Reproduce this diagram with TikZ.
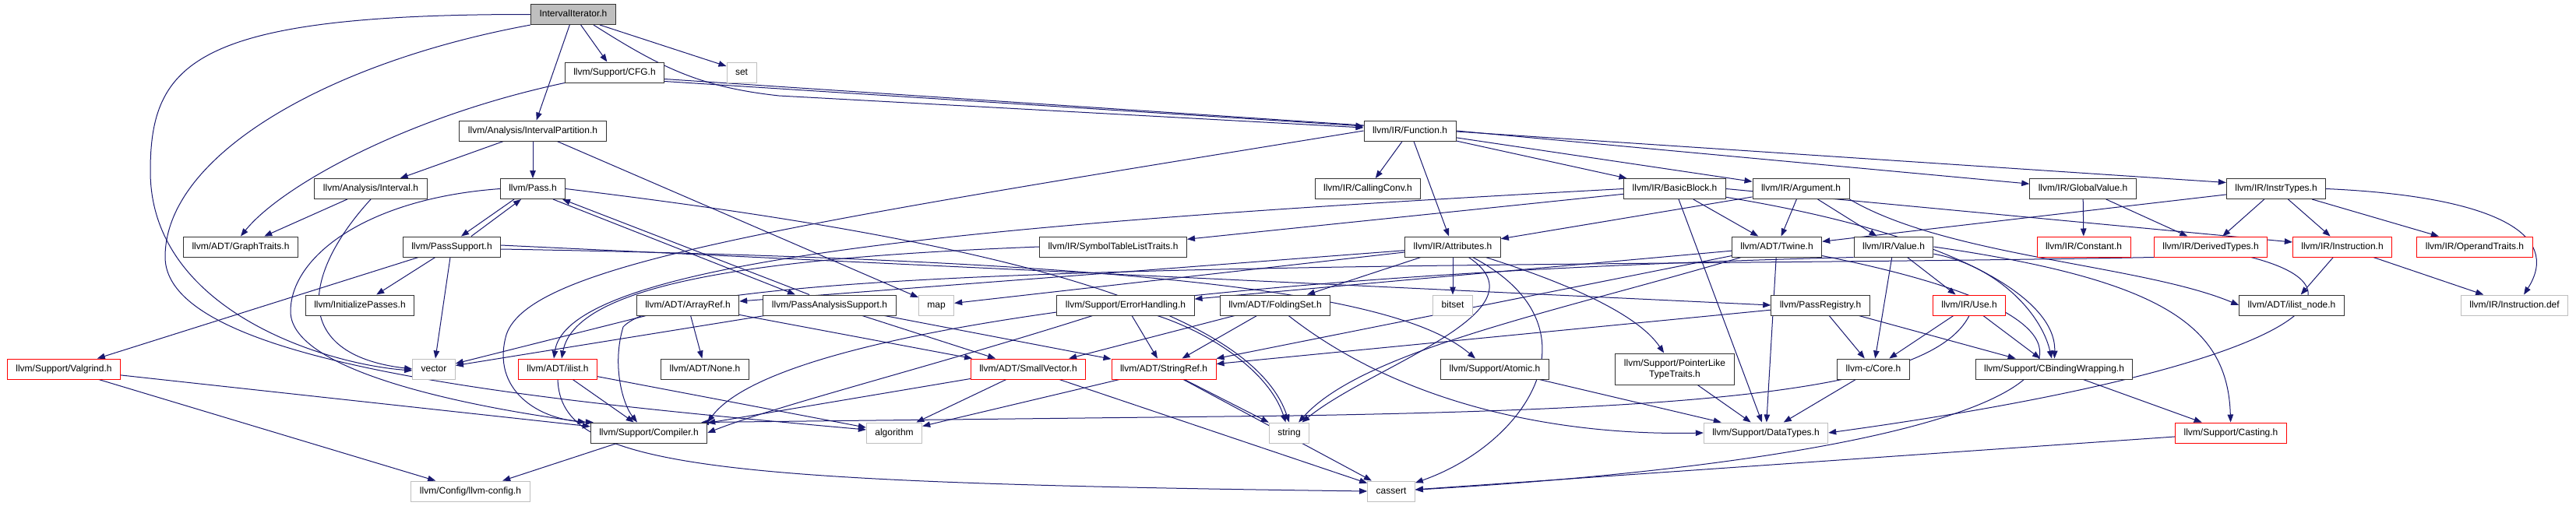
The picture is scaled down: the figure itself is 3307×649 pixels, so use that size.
\documentclass[tikz,border=0pt]{standalone}
\usepackage{fontspec}
\setmainfont{Liberation Sans}
\usetikzlibrary{arrows.meta,backgrounds}
\definecolor{edgeblue}{HTML}{191970}
\definecolor{extgray}{HTML}{BFBFBF}

\begin{document}
\begin{tikzpicture}[
  x=1pt, y=-1pt,
  >={Triangle[length=10pt,width=7.5pt]},
  box/.style={draw=black!80, fill=white, line width=1pt,
              font=\fontsize{12}{14}\selectfont, minimum height=26pt,
              inner xsep=11pt, inner ysep=0pt},
  one/.style={box, text height=9pt, text depth=2.5pt},
  redbox/.style={one, draw=red},
  graybox/.style={one, draw=extgray},
  dep/.style={->, draw=edgeblue, line width=1pt}
]
  \useasboundingbox (0,0) rectangle (3307,649);

  % row 0 and 1
  \node[one, fill=extgray] (iter) at (736,18.5) {IntervalIterator.h};
  \node[one] (cfg) at (789,93) {llvm/Support/CFG.h};
  \node[graybox] (set) at (952,93) {set};

  % row 2
  \node[one] (part) at (684,168) {llvm/Analysis/IntervalPartition.h};
  \node[one] (func) at (1810,168) {llvm/IR/Function.h};

  % row 3
  \node[one] (interval) at (476,242.5) {llvm/Analysis/Interval.h};
  \node[one] (pass) at (684,242.5) {llvm/Pass.h};
  \node[one] (callconv) at (1756,242.5) {llvm/IR/CallingConv.h};
  \node[one] (bblock) at (2150,242.5) {llvm/IR/BasicBlock.h};
  \node[one] (arg) at (2312,242.5) {llvm/IR/Argument.h};
  \node[one] (gvalue) at (2674,242.5) {llvm/IR/GlobalValue.h};
  \node[one] (itypes) at (2922,242.5) {llvm/IR/InstrTypes.h};

  % row 4
  \node[one] (gtraits) at (309,317) {llvm/ADT/GraphTraits.h};
  \node[one] (psupport) at (580,317) {llvm/PassSupport.h};
  \node[one] (symtab) at (1429,317) {llvm/IR/SymbolTableListTraits.h};
  \node[one] (attrs) at (1865,317) {llvm/IR/Attributes.h};
  \node[one] (twine) at (2281,317) {llvm/ADT/Twine.h};
  \node[one] (value) at (2431,317) {llvm/IR/Value.h};
  \node[redbox] (constant) at (2675,317) {llvm/IR/Constant.h};
  \node[redbox] (derived) at (2838,317) {llvm/IR/DerivedTypes.h};
  \node[redbox] (instr) at (3007,317) {llvm/IR/Instruction.h};
  \node[redbox] (optraits) at (3177,317) {llvm/IR/OperandTraits.h};

  % row 5
  \node[one] (initp) at (462,392) {llvm/InitializePasses.h};
  \node[one] (aref) at (883,392) {llvm/ADT/ArrayRef.h};
  \node[one] (pasupport) at (1065,392) {llvm/PassAnalysisSupport.h};
  \node[graybox] (map) at (1202,392) {map};
  \node[one] (errh) at (1445,392) {llvm/Support/ErrorHandling.h};
  \node[one] (fset) at (1637,392) {llvm/ADT/FoldingSet.h};
  \node[graybox] (bitset) at (1865,392) {bitset};
  \node[one] (preg) at (2337,392) {llvm/PassRegistry.h};
  \node[redbox] (use) at (2528,392) {llvm/IR/Use.h};
  \node[one] (inode) at (2942,392) {llvm/ADT/ilist\_node.h};
  \node[graybox] (idef) at (3228,392) {llvm/IR/Instruction.def};

  % row 6
  \node[redbox] (valgrind) at (82,474) {llvm/Support/Valgrind.h};
  \node[graybox] (vector) at (557,474) {vector};
  \node[redbox] (ilist) at (716,474) {llvm/ADT/ilist.h};
  \node[one] (none) at (905,474) {llvm/ADT/None.h};
  \node[redbox] (svector) at (1320,474) {llvm/ADT/SmallVector.h};
  \node[redbox] (sref) at (1494,474) {llvm/ADT/StringRef.h};
  \node[one] (atomic) at (1919,474) {llvm/Support/Atomic.h};
  \node[box, minimum height=40pt, align=center] (ptraits) at (2150,474)
    {llvm/Support/PointerLike\\TypeTraits.h};
  \node[one] (core) at (2405,474) {llvm-c/Core.h};
  \node[one] (cbind) at (2637,474) {llvm/Support/CBindingWrapping.h};

  % row 7 and 8
  \node[one] (compiler) at (833,556) {llvm/Support/Compiler.h};
  \node[graybox] (algo) at (1148,556) {algorithm};
  \node[graybox] (string) at (1655,556) {string};
  \node[graybox] (dtypes) at (2267,556) {llvm/Support/DataTypes.h};
  \node[redbox] (casting) at (2864,556) {llvm/Support/Casting.h};
  \node[graybox] (config) at (604,631) {llvm/Config/llvm-config.h};
  \node[graybox] (cassert) at (1786,631) {cassert};

  \begin{scope}[on background layer]
    \fill[white] (0,0) rectangle (3307,649);

    % IntervalIterator.h
    \draw[dep] (iter) -- (cfg);
    \draw[dep] (iter) -- (part);
    \draw[dep] ([xshift=34pt]iter.south) -- ([yshift=8pt]set.west);
    \draw[dep] ([xshift=26pt]iter.south) .. controls (850,88) and (900,112) .. (1000,123)
      -- ([yshift=4pt]func.west);
    \draw[dep] (iter.west) .. controls (250,18) and (193,80) .. (193,220)
      .. controls (193,400) and (420,468) .. ([yshift=-2pt]vector.west);
    \draw[dep] (iter.south west) .. controls (420,80) and (212,200) .. (212,330)
      .. controls (212,470) and (700,515) .. ([yshift=4pt]algo.west);

    % CFG.h
    \draw[dep] (cfg.south west) .. controls (520,150) and (360,240) .. (gtraits.north);
    \draw[dep] ([yshift=2pt]cfg.south east) -- ([yshift=6pt]func.west);
    \draw[dep] ([yshift=5pt]cfg.south east) -- ([yshift=8pt]itypes.west);

    % IntervalPartition.h, Interval.h
    \draw[dep] (part) -- (interval);
    \draw[dep] (part) -- (pass);
    \draw[dep] (part) -- (map);
    \draw[dep] (interval) -- (gtraits);
    \draw[dep] (interval.south) .. controls (390,350) and (370,455) .. (vector.west);

    % Pass.h
    \draw[dep] ([xshift=-24pt]pass.south) -- ([xshift=12pt]psupport.north);
    \draw[dep] ([xshift=25pt]psupport.north) -- ([xshift=-15pt]pass.south);
    \draw[dep] ([xshift=26pt]pass.south) -- ([xshift=-44pt]pasupport.north);
    \draw[dep] ([xshift=-26pt]pasupport.north) -- ([xshift=38pt]pass.south);
    \draw[dep] (pass.west) .. controls (470,255) and (373,330) .. (373,400)
      .. controls (373,480) and (620,525) .. ([xshift=-6pt]compiler.north west);
    \draw[dep] (pass.east) .. controls (1200,300) and (1600,380) .. (string.north);

    % PassSupport.h
    \draw[dep] (psupport) -- (initp);
    \draw[dep] (psupport) -- (vector);
    \draw[dep] (psupport) -- (valgrind);
    \draw[dep] ([yshift=2pt]psupport.east) -- (preg.west);
    \draw[dep] ([yshift=-3pt]psupport.east) .. controls (1500,335) and (1800,380)
      .. ([xshift=-25pt]atomic.north);

    % PassAnalysisSupport.h, ArrayRef.h
    \draw[dep] (pasupport) -- (vector);
    \draw[dep] (pasupport) -- (svector);
    \draw[dep] (pasupport) -- (sref);
    \draw[dep] (aref) -- (none);
    \draw[dep] (aref) -- (svector);
    \draw[dep] (aref) -- (vector);

    % Function.h
    \draw[dep] (func) -- (callconv);
    \draw[dep] (func) -- (attrs);
    \draw[dep] (func) -- (bblock);
    \draw[dep] (func) -- (arg);
    \draw[dep] (func.east) -- (gvalue);
    \draw[dep] (func.west) .. controls (1000,290) and (680,340) .. (650,430)
      .. controls (630,500) and (690,540) .. ([xshift=4pt]compiler.north west);

    % BasicBlock.h
    \draw[dep] (bblock) -- (symtab);
    \draw[dep] (bblock.west) .. controls (1300,285) and (730,330) .. ([xshift=-5pt]ilist.north);
    \draw[dep] (bblock) -- (twine);
    \draw[dep] (bblock) -- (dtypes);
    \draw[dep] (bblock.east) -- (instr);
    \draw[dep] (bblock) .. controls (2500,300) and (2640,380) .. (cbind);

    % Argument.h
    \draw[dep] (arg) -- (attrs);
    \draw[dep] (arg) -- (twine);
    \draw[dep] (arg) -- (value);
    \draw[dep] (arg.south east) .. controls (2500,330) and (2750,340) .. (inode.west);

    % GlobalValue.h, InstrTypes.h
    \draw[dep] (gvalue) -- (constant);
    \draw[dep] (gvalue) -- (derived);
    \draw[dep] (itypes) -- (derived);
    \draw[dep] (itypes) -- (instr);
    \draw[dep] (itypes) -- (optraits);
    \draw[dep] (itypes.east) .. controls (3200,252) and (3290,300) .. ([xshift=12pt]idef.north);
    \draw[dep] (itypes) -- (twine);

    % Attributes.h
    \draw[dep] (attrs) -- (aref);
    \draw[dep] (attrs) -- (fset);
    \draw[dep] (attrs) -- (bitset);
    \draw[dep] (attrs) .. controls (2060,420) and (1960,570) .. (cassert);
    \draw[dep] (attrs) .. controls (1990,400) and (1760,470) .. (string);
    \draw[dep] (attrs) -- (map);
    \draw[dep] (attrs) .. controls (2000,360) and (2100,400) .. (ptraits);

    % Twine.h
    \draw[dep] (twine) -- (sref);
    \draw[dep] (twine) -- (dtypes);
    \draw[dep] (twine) -- (errh);
    \draw[dep] (twine) .. controls (2000,400) and (1750,450) .. (string);
    \draw[dep] (twine) .. controls (2850,430) and (2650,580) .. (cassert);

    % Value.h
    \draw[dep] (value) -- (use);
    \draw[dep] (value) -- (core);
    \draw[dep] (value) .. controls (2560,340) and (2620,400) .. (cbind);
    \draw[dep] (value.east) .. controls (2780,360) and (2860,420) .. (casting);
    \draw[dep] (value.south west) .. controls (1600,350) and (1000,420) .. (compiler.north east);

    % DerivedTypes.h, Instruction.h
    \draw[dep] (derived.south west) .. controls (2000,345) and (880,330) .. (800,420)
      .. controls (785,470) and (800,520) .. ([xshift=-15pt]compiler.north);
    \draw[dep] (derived) .. controls (3080,380) and (2900,480) .. (dtypes.east);
    \draw[dep] (instr) -- (inode);
    \draw[dep] (instr) -- (idef);

    % PassRegistry.h, Use.h
    \draw[dep] (preg) -- (core);
    \draw[dep] (preg) -- (cbind);
    \draw[dep] (preg) -- (sref);
    \draw[dep] (use) -- (core);
    \draw[dep] (use) -- (cbind);
    \draw[dep] (use.south) .. controls (2480,500) and (2200,525) .. (1660,534)
      -- ([xshift=-8pt]compiler.north east);

    % ErrorHandling.h, FoldingSet.h
    \draw[dep] (errh) -- (sref);
    \draw[dep] (errh) .. controls (1200,470) and (1000,520) .. (compiler.east);
    \draw[dep] (errh) .. controls (1560,430) and (1630,480) .. (string);
    \draw[dep] (fset) -- (svector);
    \draw[dep] (fset) -- (sref);
    \draw[dep] (fset) .. controls (1800,520) and (2000,560) .. (dtypes.west);

    % SmallVector.h, StringRef.h, ilist.h
    \draw[dep] (svector) -- (compiler);
    \draw[dep] (svector) -- (algo);
    \draw[dep] (svector) -- (cassert);
    \draw[dep] (sref) -- (algo);
    \draw[dep] (sref) -- (string);
    \draw[dep] (sref) -- (cassert);
    \draw[dep] (symtab.west) .. controls (1000,330) and (740,360) .. ([xshift=5pt]ilist.north);
    \draw[dep] (ilist) -- (compiler);
    \draw[dep] (ilist) -- (algo);
    \draw[dep] (ilist.south) .. controls (720,600) and (900,620) .. (cassert.west);

    % lower rows
    \draw[dep] (valgrind) -- (compiler);
    \draw[dep] (valgrind) -- (config);
    \draw[dep] (compiler) -- (config);
    \draw[dep] (atomic) -- (dtypes);
    \draw[dep] (ptraits) -- (dtypes);
    \draw[dep] (core) -- (dtypes);
    \draw[dep] (cbind) -- (casting);
    \draw[dep] (casting) -- (cassert);
  \end{scope}
\end{tikzpicture}
\end{document}
